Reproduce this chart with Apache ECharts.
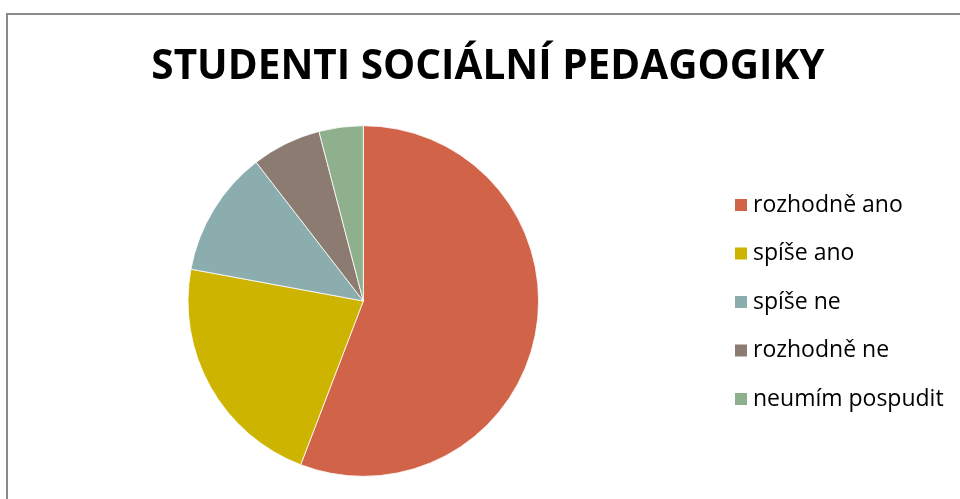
<!DOCTYPE html>
<html>
<head>
<meta charset="utf-8">
<style>
  html, body { margin: 0; padding: 0; background: #fff; }
  #chart { width: 960px; height: 499px; }
</style>
<script src="https://cdn.jsdelivr.net/npm/echarts@6/dist/echarts.min.js"></script>
</head>
<body>
<div id="chart"></div>
<script>
// Survey answers (counts of students)
const titleText = 'STUDENTI SOCIÁLNÍ PEDAGOGIKY';
const categories = ['rozhodně ano', 'spíše ano', 'spíše ne', 'rozhodně ne', 'neumím pospudit'];
const counts = [96, 38, 20, 11, 7];
const palette = ['#D16349', '#CCB400', '#8CADAE', '#8C7B70', '#8FB08C'];

const chart = echarts.init(document.getElementById('chart'), null, { renderer: 'canvas' });

chart.setOption({
  animation: false,
  color: palette,
  graphic: [
    // chart frame (top and left edges visible)
    {
      type: 'polyline',
      shape: { points: [[7, 499], [7, 14], [960, 14]] },
      style: { stroke: '#8a8a8a', lineWidth: 2, fill: null }
    },
    {
      type: 'text',
      x: 488,
      y: 67,
      style: {
        text: titleText,
        fontFamily: 'Open Sans',
        fontWeight: 'bold',
        fontSize: 40.5,
        fill: '#000',
        align: 'center',
        verticalAlign: 'middle'
      }
    }
  ],
  legend: {
    orient: 'vertical',
    left: 733,
    top: 193,
    padding: 0,
    itemWidth: 14,
    itemHeight: 14,
    itemGap: 24.5,
    itemTextGap: 6,
    icon: 'rect',
    textStyle: { fontFamily: 'Open Sans', fontSize: 23, lineHeight: 24, color: '#000' },
    data: categories
  },
  series: [{
    type: 'pie',
    center: [363.3, 301],
    radius: 175.3,
    startAngle: 90,
    clockwise: true,
    label: { show: false },
    labelLine: { show: false },
    itemStyle: { borderColor: '#fff', borderWidth: 0.8 },
    emphasis: { disabled: true },
    data: categories.map((name, i) => ({ name, value: counts[i] }))
  }]
});
</script>
</body>
</html>
